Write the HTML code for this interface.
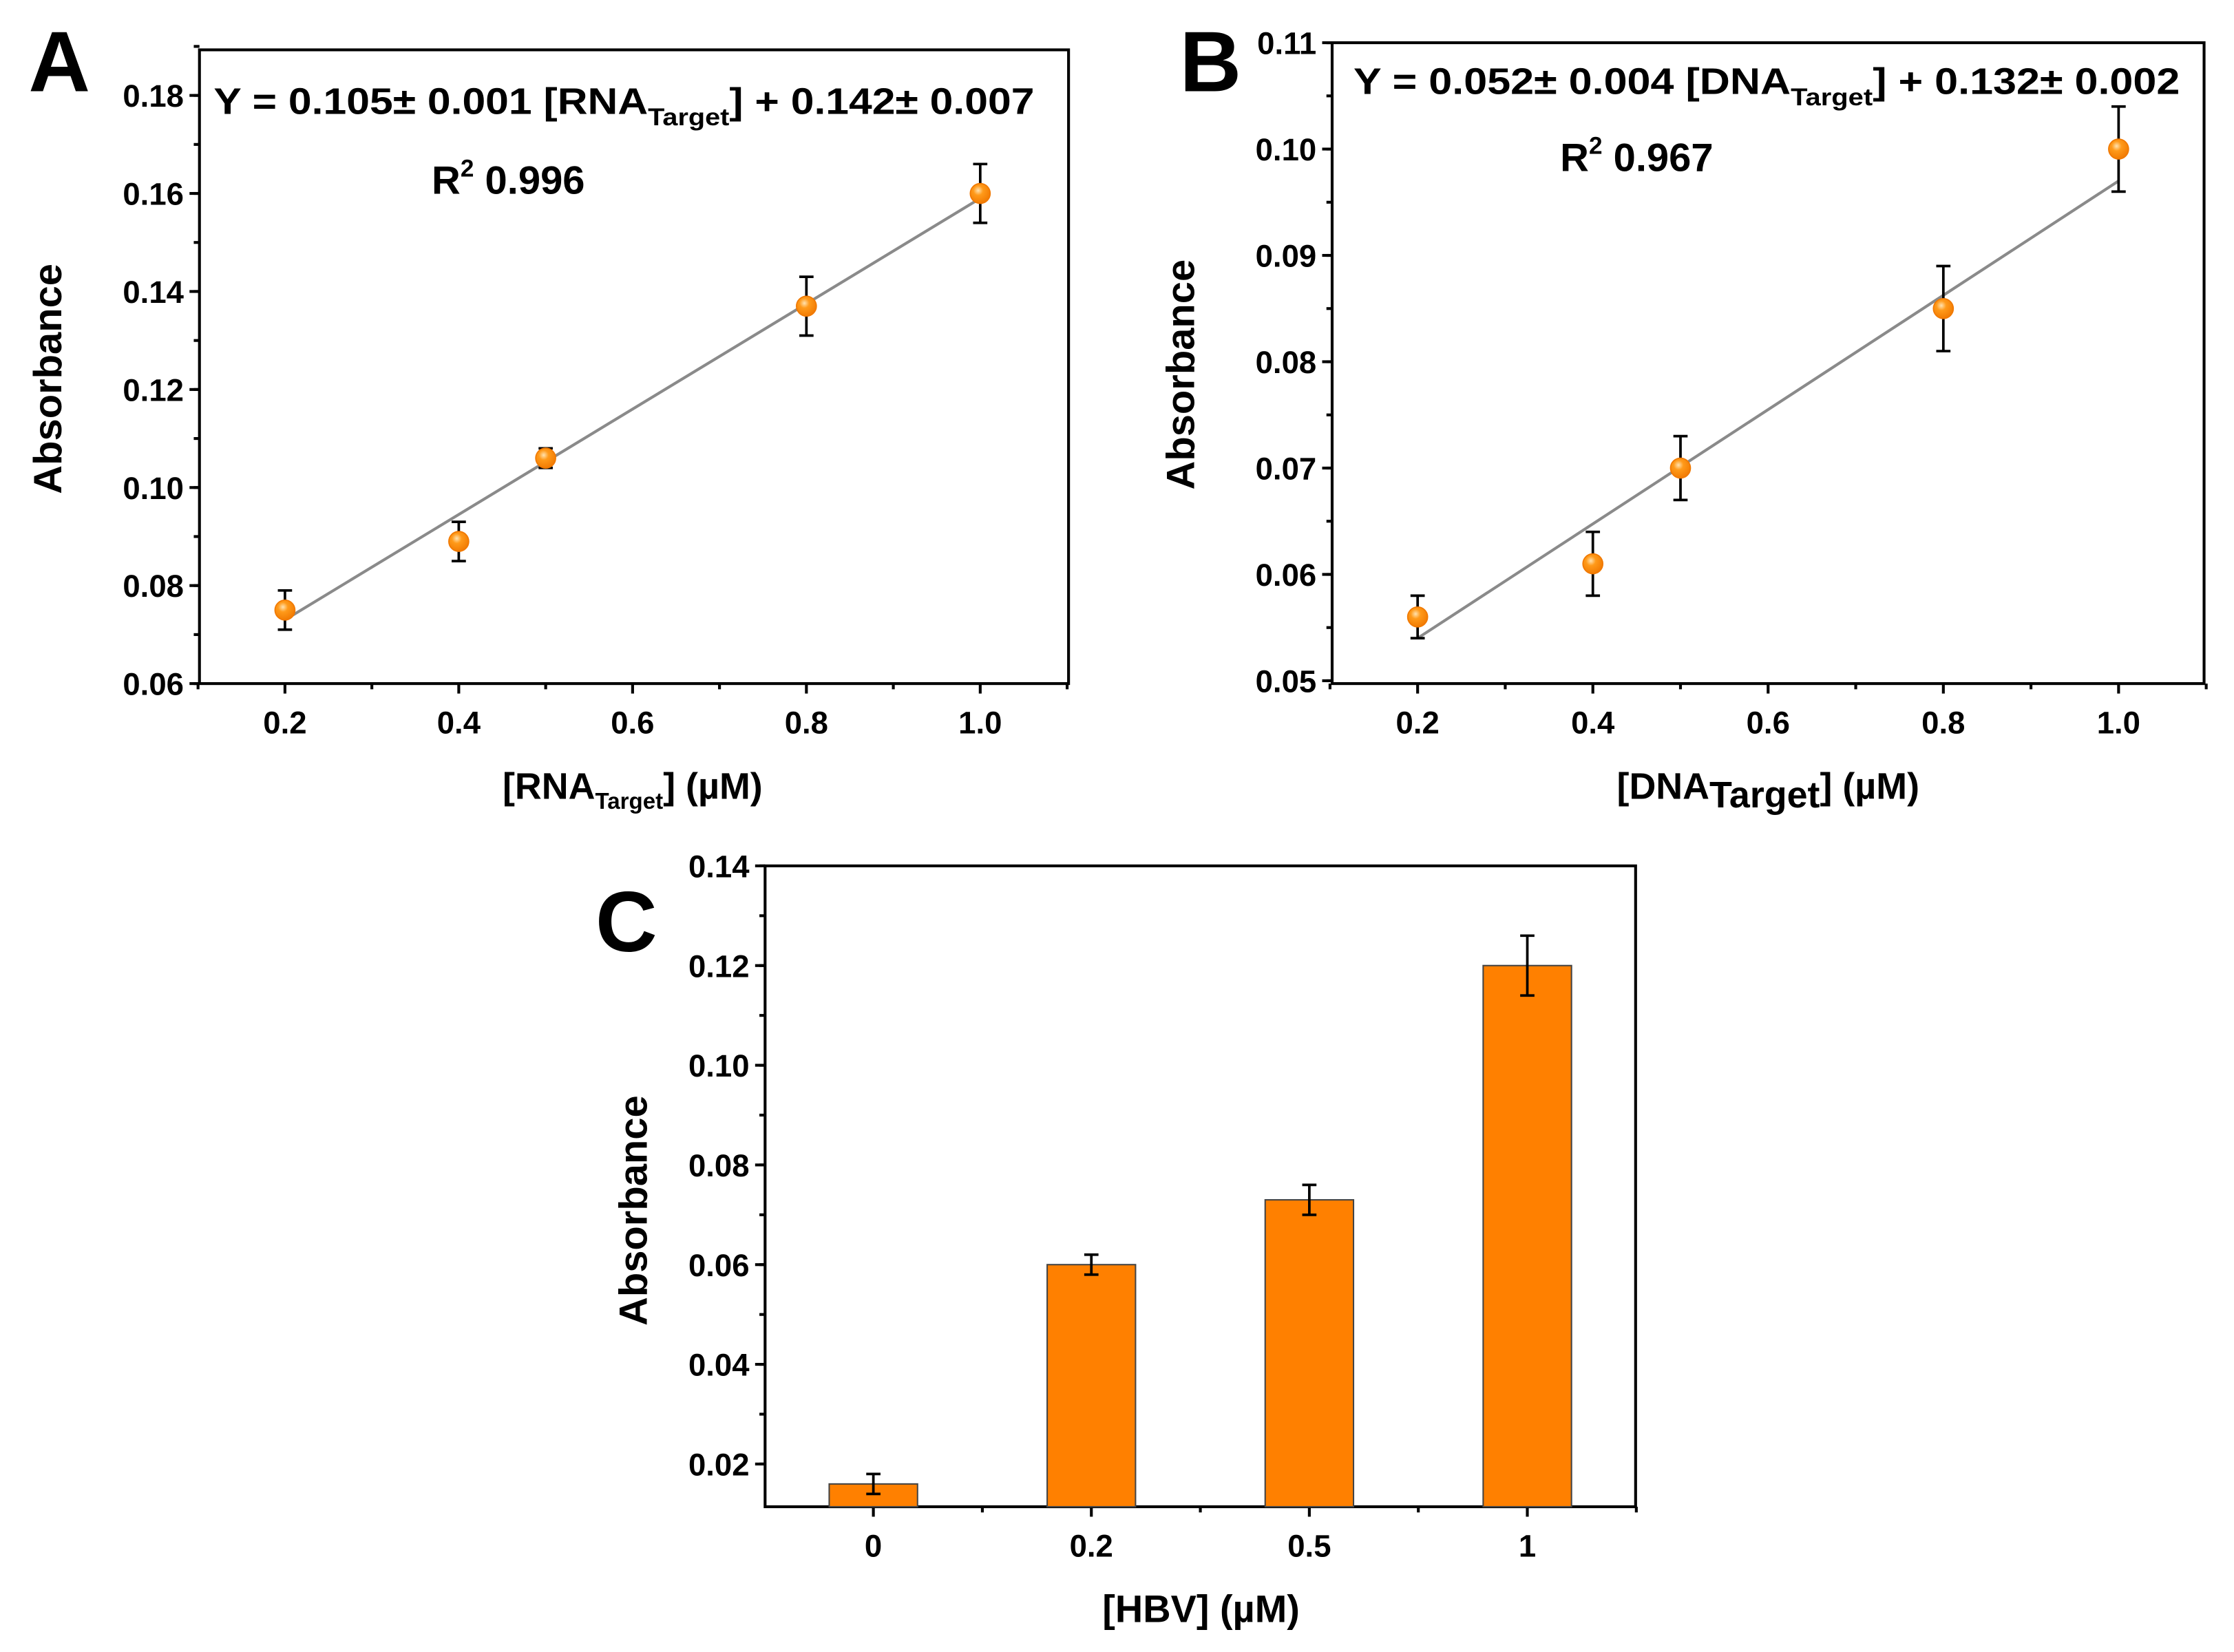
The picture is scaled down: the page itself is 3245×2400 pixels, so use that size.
<!DOCTYPE html>
<html><head><meta charset="utf-8"><style>
html,body{margin:0;padding:0;background:#fff}
svg{display:block}
text{font-family:"Liberation Sans",Arial,sans-serif;font-weight:bold;fill:#000}
</style></head><body>
<svg id="fig" xmlns="http://www.w3.org/2000/svg" width="3245" height="2400" viewBox="0 0 1568 1160" preserveAspectRatio="none">
<defs><radialGradient id="dot" cx="0.4" cy="0.35" r="0.7"><stop offset="0" stop-color="#ffe2b0"/><stop offset="0.35" stop-color="#ff9a1a"/><stop offset="1" stop-color="#f07800"/></radialGradient></defs>
<g id="pa"></g>
<g id="pb"></g>
<g id="pc"></g>
</svg>
<script>
// Panel A data
const aX = [0.2, 0.4, 0.5, 0.8, 1.0];
const aY = [0.075, 0.089, 0.106, 0.137, 0.160];
const aErr = [0.004, 0.004, 0.002, 0.006, 0.006];
const aFit = [0.073, 0.159];
const aYTicks = ["0.06","0.08","0.10","0.12","0.14","0.16","0.18"];
const aXTicks = ["0.2","0.4","0.6","0.8","1.0"];
// Panel B data
const bX = [0.2, 0.4, 0.5, 0.8, 1.0];
const bY = [0.056, 0.061, 0.070, 0.085, 0.100];
const bErr = [0.002, 0.003, 0.003, 0.004, 0.004];
const bFit = [0.054, 0.097];
const bYTicks = ["0.05","0.06","0.07","0.08","0.09","0.10","0.11"];
const bXTicks = ["0.2","0.4","0.6","0.8","1.0"];
// Panel C data
const cCats = ["0","0.2","0.5","1"];
const cVals = [0.016, 0.060, 0.073, 0.120];
const cErr = [0.002, 0.002, 0.003, 0.006];
const cYTicks = ["0.02","0.04","0.06","0.08","0.10","0.12","0.14"];

const NS = "http://www.w3.org/2000/svg";
const TFS = 22;
function mk(parent, tag, attrs, txt){
  const e = document.createElementNS(NS, tag);
  for (const k in attrs) e.setAttribute(k, attrs[k]);
  if (txt !== undefined) e.textContent = txt;
  parent.appendChild(e); return e;
}
function lin(d0,d1,r0,r1){ return v => r0 + (v-d0)*(r1-r0)/(d1-d0); }

function frame(g, L, R, T, B){
  const f = mk(g,'rect',{x:L,y:T,width:R-L,height:B-T,fill:'none',stroke:'#000','stroke-width':2});
  
  
}
function yAxis(g, sy, L, ticks, minorStep, lo, hi){
  ticks.forEach(t => {
    const v = parseFloat(t), y = sy(v);
    mk(g,'line',{x1:L-7,x2:L,y1:y,y2:y,stroke:'#000','stroke-width':2});
    const tx = mk(g,'text',{x:L-11,y:y+8,'font-size':TFS,'text-anchor':'end'}, t);
    
    
  });
  for (let v = lo; v <= hi + 1e-9; v += minorStep) {
    const y = sy(v);
    mk(g,'line',{x1:L-4,x2:L,y1:y,y2:y,stroke:'#000','stroke-width':2});
  }
}
function scatterPanel(g, o){
  const sx = lin(0.2,1.0,o.x02,o.x10), sy = lin(o.y0v,o.y1v,o.y0p,o.y1p);
  frame(g,o.L,o.R,o.T,o.B);
  yAxis(g, sy, o.L, o.yt, o.minor, o.minLo, o.minHi);
  o.xt.forEach(t => {
    const x = sx(parseFloat(t));
    mk(g,'line',{x1:x,x2:x,y1:o.B,y2:o.B+7,stroke:'#000','stroke-width':2});
    const tx = mk(g,'text',{x:x,y:o.B+35,'font-size':TFS,'text-anchor':'middle'}, t);
    
    
  });
  [0.1,0.3,0.5,0.7,0.9,1.1].forEach(v => { const x = sx(v);
    mk(g,'line',{x1:x,x2:x,y1:o.B,y2:o.B+4,stroke:'#000','stroke-width':2}); });
  const fit = mk(g,'line',{x1:sx(0.2),y1:sy(o.fit[0]),x2:sx(1.0),y2:sy(o.fit[1]),stroke:'#8a8a8a','stroke-width':2});
  
  
  o.xs.forEach((xv,i) => {
    const x = sx(xv), y = sy(o.ys[i]), e1 = sy(o.ys[i]+o.err[i]), e2 = sy(o.ys[i]-o.err[i]);
    const eb = mk(g,'path',{d:`M${x},${e1}V${e2}M${x-5},${e1}H${x+5}M${x-5},${e2}H${x+5}`,stroke:'#000','stroke-width':1.8,fill:'none'});
    
    
    const c = mk(g,'circle',{cx:x,cy:y,r:7,fill:'url(#dot)',stroke:'#f07800','stroke-width':0.8});
    
    
  });
}

const pa = document.getElementById('pa');
scatterPanel(pa,{L:140,R:750,T:35,B:480,x02:200,x10:688,y0v:0.06,y1v:0.18,y0p:480,y1p:67,
  yt:aYTicks,xt:aXTicks,minor:0.01,minLo:0.06,minHi:0.19,xs:aX,ys:aY,err:aErr,fit:aFit});
const pb = document.getElementById('pb');
scatterPanel(pb,{L:935,R:1547,T:30,B:480,x02:995,x10:1487,y0v:0.05,y1v:0.11,y0p:478,y1p:30,
  yt:bYTicks,xt:bXTicks,minor:0.005,minLo:0.05,minHi:0.11,xs:bX,ys:bY,err:bErr,fit:bFit});

const pc = document.getElementById('pc');
(function(){
  const L=537,R=1148,T=608,B=1058;
  const sy = lin(0.02,0.14,1028,608);
  const sx = i => 613 + i*153;
  frame(pc,L,R,T,B);
  yAxis(pc, sy, L, cYTicks, 0.01, 0.02, 0.14);
  cCats.forEach((c,i) => {
    const x = sx(i);
    mk(pc,'line',{x1:x,x2:x,y1:B,y2:B+7,stroke:'#000','stroke-width':2});
    const tx = mk(pc,'text',{x:x,y:B+35,'font-size':TFS,'text-anchor':'middle'}, c);
    
    
    const xm = x + 76.5;
    mk(pc,'line',{x1:xm,x2:xm,y1:B,y2:B+4,stroke:'#000','stroke-width':2});
    const v = cVals[i], y = sy(v);
    const bar = mk(pc,'rect',{x:x-31,y:y,width:62,height:B-y,fill:'#ff8000',stroke:'#444','stroke-width':1});
    
    
    const e1 = sy(v+cErr[i]), e2 = sy(v-cErr[i]);
    const eb = mk(pc,'path',{d:`M${x},${e1}V${e2}M${x-5},${e1}H${x+5}M${x-5},${e2}H${x+5}`,stroke:'#000','stroke-width':1.8,fill:'none'});
    
    
  });
})();
</script>
<svg style="position:absolute;left:0;top:0" width="3245" height="2400" viewBox="0 0 1568 1160" preserveAspectRatio="none">
<text x="20" y="64" font-size="60">A</text>
<text x="828" y="64" font-size="60">B</text>
<text x="418" y="668" font-size="60">C</text>
<text x="150" y="80" font-size="26" textLength="576" lengthAdjust="spacingAndGlyphs">Y = 0.105± 0.001 [RNA<tspan font-size="17" dy="8">Target</tspan><tspan dy="-8">] + 0.142± 0.007</tspan></text>
<text x="303" y="136" font-size="28">R<tspan font-size="17" dy="-12">2</tspan><tspan dy="12"> 0.996</tspan></text>
<text x="950" y="66" font-size="26" textLength="580" lengthAdjust="spacingAndGlyphs">Y = 0.052± 0.004 [DNA<tspan font-size="17" dy="8">Target</tspan><tspan dy="-8">] + 0.132± 0.002</tspan></text>
<text x="1095" y="120" font-size="28">R<tspan font-size="17" dy="-12">2</tspan><tspan dy="12"> 0.967</tspan></text>
<text transform="translate(43,266) rotate(-90)" font-size="28" text-anchor="middle">Absorbance</text>
<text transform="translate(838,263) rotate(-90)" font-size="28" text-anchor="middle">Absorbance</text>
<text transform="translate(454,850) rotate(-90)" font-size="28" text-anchor="middle">Absorbance</text>
<text x="444" y="561" font-size="26" text-anchor="middle">[RNA<tspan font-size="16" dy="7">Target</tspan><tspan dy="-7">] (µM)</tspan></text>
<text x="1241" y="561" font-size="26" text-anchor="middle">[DNA<tspan dy="6">Target</tspan><tspan dy="-6">] (µM)</tspan></text>
<text x="843" y="1139" font-size="27" text-anchor="middle">[HBV] (µM)</text>
</svg>
</body></html>
